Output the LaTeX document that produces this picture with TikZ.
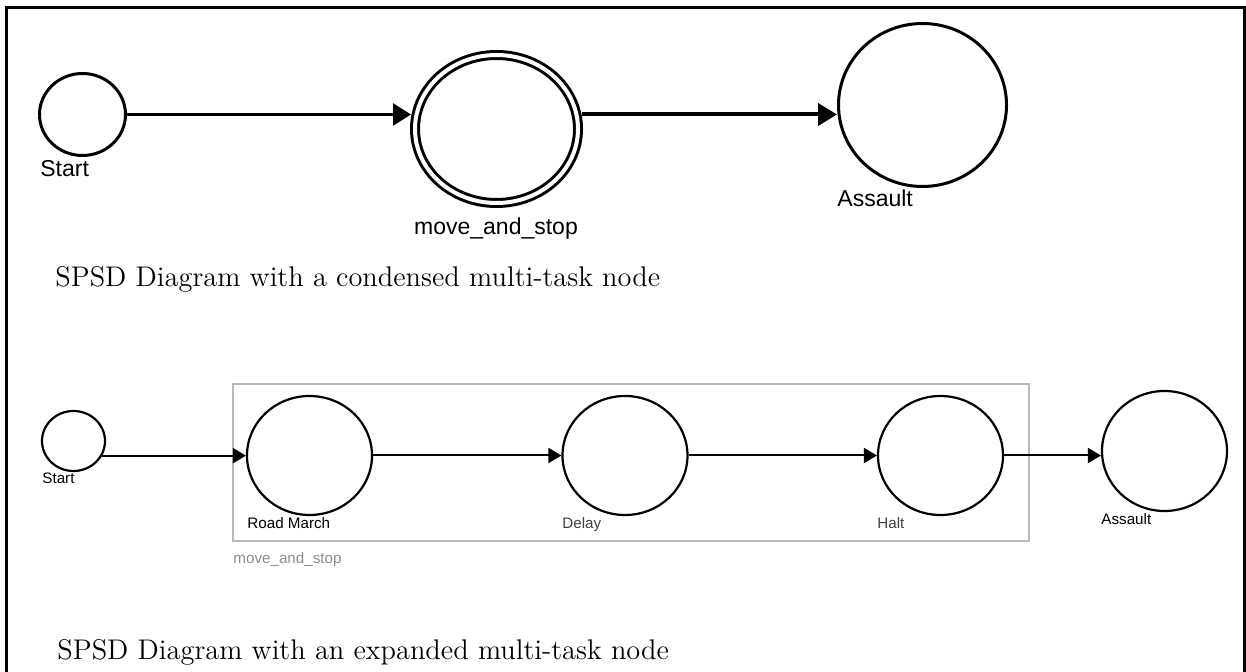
\documentclass[tikz,border=0pt]{standalone}
\usepackage{fontspec}
\newfontfamily\arialfont{Liberation Sans}
\usetikzlibrary{shapes.geometric,arrows.meta,fit}
\definecolor{boxgray}{RGB}{185,185,185}
\definecolor{lblgray}{RGB}{140,140,140}
\tikzset{
  task/.style={ellipse, draw, inner sep=0pt, line width=1.5pt},
  subtask/.style={ellipse, draw, inner sep=0pt, line width=1.1pt, minimum width=62.5pt, minimum height=59.5pt},
  bigname/.style={anchor=base west, inner sep=0pt, font=\arialfont\fontsize{11.5}{13}\selectfont},
  smallname/.style={anchor=base west, inner sep=0pt, font=\arialfont\fontsize{7.6}{9}\selectfont},
  captext/.style={anchor=base west, inner sep=0pt, font=\fontsize{14.2}{16}\selectfont},
  flow/.style={->, line width=1pt}
}
\begin{document}
\begin{tikzpicture}[x=0.5pt, y=-0.5pt, >={Triangle[length=6.5pt,width=7.5pt]}]
\useasboundingbox (0,0) rectangle (1246,672);
% frame, open at the bottom
\draw[line width=1.5pt] (6.5,672) |- (1244,8) -- (1244,672);

% condensed node
\node[task, minimum width=43pt, minimum height=41pt] (start1) at (82.5,114.5) {};
\node[task, double, double distance=2pt, outer sep=2pt, minimum width=81.5pt, minimum height=74pt] (mas1) at (496.5,129) {};
\node[task, minimum width=84pt, minimum height=81.5pt] (assault1) at (922.5,105) {};
\draw[line width=1.3pt, -{Triangle[length=9pt,width=11pt]}] (start1.east) -- (start1.east -| mas1.west);
\draw[line width=2pt, -{Triangle[length=9.5pt,width=11pt]}] (start1.east -| mas1.east) -- (start1.east -| assault1.west);
\node[bigname] (start1lbl) at (40,177) {Start};
\node[bigname, anchor=base] (mas1lbl) at (496,235) {move\_and\_stop};
\node[bigname] (assault1lbl) at (837,207) {Assault};
\node[captext] (cap1) at (55,287) {SPSD Diagram with a condensed multi-task node};

% expanded node
\node[subtask, minimum width=31.5pt, minimum height=30pt] (start2) at (73.5,441) {};
\node[subtask] (road) at (309.5,455.5) {};
\node[subtask] (delay) at (625,455.5) {};
\node[subtask] (halt) at (940.5,455.5) {};
\node[subtask, minimum height=60pt] (assault2) at (1164.5,451) {};
\node[draw=boxgray, line width=0.6pt, inner sep=0pt, fit={(233,384) (1029,541)}] (group) {};
\draw[flow] (start2.-27) -- (start2.-27 -| road.west);
\draw[flow] (road) -- (delay);
\draw[flow] (delay) -- (halt);
\draw[flow] (halt) -- (halt -| assault2.west);
\node[smallname] (start2lbl) at (42,484) {Start};
\node[smallname] (roadlbl) at (247,529) {Road March};
\node[smallname, text=black!75] (delaylbl) at (562,529) {Delay};
\node[smallname, text=black!75] (haltlbl) at (877,529) {Halt};
\node[smallname] (assault2lbl) at (1101,525) {Assault};
\node[smallname, text=lblgray] (grouplbl) at (233,564) {move\_and\_stop};
\node[captext] (cap2) at (57,659) {SPSD Diagram with an expanded multi-task node};
\end{tikzpicture}
\end{document}
